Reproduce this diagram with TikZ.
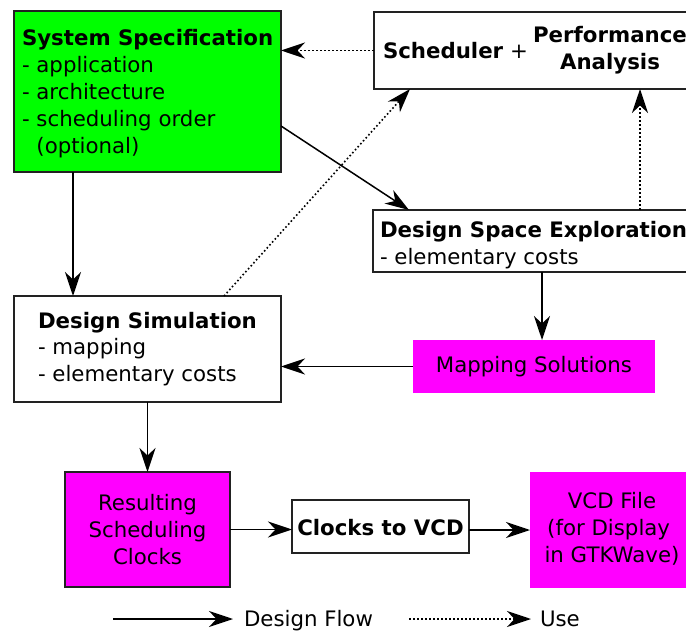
\documentclass[tikz,border=0pt]{standalone}
\usepackage{fontspec}
\setmainfont{DejaVu Sans}
\usetikzlibrary{arrows.meta,calc}
\definecolor{specgreen}{HTML}{00FF00}
\definecolor{solmagenta}{HTML}{FF00FF}
\definecolor{edge}{HTML}{222222}
\begin{document}
\begin{tikzpicture}[x=1pt,y=-1pt,
  box/.style={draw=edge, line width=1.6pt, inner sep=0pt, outer sep=0pt},
  fillbox/.style={inner sep=0pt, outer sep=0pt},
  txt/.style={inner sep=0pt, outer sep=0pt, font=\fontsize{21.3}{27}\selectfont},
  tip/.style={-{Stealth[length=24pt,width=16pt,inset=7.5pt]}},
  flow/.style={tip, line width=1.5pt},
  use/.style={tip, line width=1.6pt, dash pattern=on 1.6pt off 2.4pt},
]
\path[use as bounding box] (0,0) rectangle (686,631);
\clip (0,0) rectangle (686,631);

% boxes
\node[box, fill=specgreen, minimum width=267pt, minimum height=161pt] (spec) at (147.5,91.5) {};
\node[box, fill=white, minimum width=326pt, minimum height=77pt] (sched) at (537,50.5) {};
\node[box, fill=white, minimum width=327pt, minimum height=62pt] (dse) at (536.5,241) {};
\node[box, fill=white, minimum width=267pt, minimum height=106pt] (sim) at (147.5,349) {};
\node[fillbox, fill=solmagenta, minimum width=242pt, minimum height=53pt] (map) at (534,366.5) {};
\node[box, fill=solmagenta, minimum width=165pt, minimum height=115pt] (res) at (147.5,529.5) {};
\node[box, fill=white, minimum width=177pt, minimum height=53pt] (clk) at (380.5,526.5) {};
\node[fillbox, fill=solmagenta, minimum width=164pt, minimum height=116pt] (vcd) at (612,530) {};

% texts
\node[txt, anchor=base west] (spect) at (22,45.5) {\begin{tabular}[t]{@{}l@{}}\textbf{System Specification}\\- application\\- architecture\\- scheduling order\\\hphantom{- }(optional)\end{tabular}};
\node[txt, anchor=base west] (schedt) at (383,59) {\textbf{Scheduler} +};
\node[txt, anchor=base] (perft) at (610,43) {\begin{tabular}[t]{@{}c@{}}\textbf{Performance}\\\textbf{Analysis}\end{tabular}};
\node[txt, anchor=base west] (dset) at (380,238) {\begin{tabular}[t]{@{}l@{}}\textbf{Design Space Exploration}\\- elementary costs\end{tabular}};
\node[txt, anchor=base west] (simt) at (38,328) {\begin{tabular}[t]{@{}l@{}}\textbf{Design Simulation}\\- mapping\\- elementary costs\end{tabular}};
\node[txt, anchor=base] (mapt) at (534,372.5) {Mapping Solutions};
\node[txt, anchor=base] (rest) at (147.5,510) {\begin{tabular}[t]{@{}c@{}}Resulting\\Scheduling\\Clocks\end{tabular}};
\node[txt, anchor=base] (clkt) at (380.5,535) {\textbf{Clocks to VCD}};
\node[txt, anchor=base] (vcdt) at (612,508) {\begin{tabular}[t]{@{}c@{}}VCD File\\(for Display\kern6.7pt\\in GTKWave)\end{tabular}};

% connectors
\draw[flow] ($(spec.south west)+(59,0)$) -- ($(sim.north west)+(59,0)$);
\draw[flow] ($(spec.north east)+(0,115)$) -- ($(dse.north west)+(36,0)$);
\draw[use] (sched.west) -- (sched.west -| spec.east);
\coordinate (dx) at ($(dse.north west)+(267,0)$);
\draw[use] (dx) -- (dx |- sched.south);
\draw[use] ($(sim.north west)+(210,0)$) -- ($(sched.south west)+(36,0)$);
\coordinate (dm) at ($(dse.south west)+(169,0)$);
\draw[flow] (dm) -- (dm |- map.north);
\draw[flow] (map.west) -- (map.west -| sim.east);
\draw[flow] (sim.south) -- (res.north);
\draw[flow] (res.east) -- (res.east -| clk.west);
\draw[flow] (vcd.west -| clk.east) -- (vcd.west);

% legend
\coordinate (fa) at (113,619);
\coordinate (fb) at (233,619);
\draw[flow] (fa) -- (fb);
\node[txt, anchor=base west] (flowt) at (244,626) {Design Flow};
\coordinate (ua) at (409,619);
\coordinate (ub) at (531,619);
\draw[use] (ua) -- (ub);
\node[txt, anchor=base west] (uset) at (540,626) {Use};
\end{tikzpicture}
\end{document}
